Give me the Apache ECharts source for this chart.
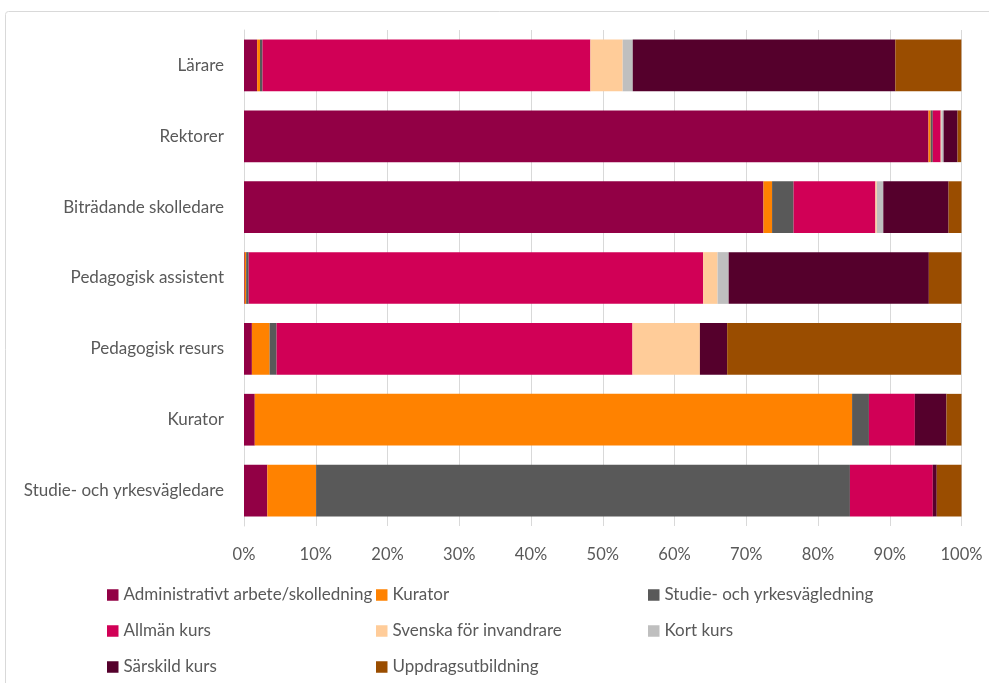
<!DOCTYPE html>
<html><head><meta charset="utf-8">
<script src="https://cdn.jsdelivr.net/npm/echarts@6/dist/echarts.min.js"></script>
<style>html,body{margin:0;padding:0;background:#fff}#c{width:989px;height:683px}</style>
</head><body><div id="c"></div>
<script>
const categories = ['Lärare','Rektorer','Biträdande skolledare','Pedagogisk assistent','Pedagogisk resurs','Kurator','Studie- och yrkesvägledare'];
const seriesNames = ['Administrativt arbete/skolledning','Kurator','Studie- och yrkesvägledning','Allmän kurs','Svenska för invandrare','Kort kurs','Särskild kurs','Uppdragsutbildning'];
const admin     = [1.83, 95.4, 72.4, 0.1, 1.1, 1.5, 3.25];
const kurator   = [0.4, 0.3, 1.2, 0.2, 2.47, 83.25, 6.8];
const studie    = [0.35, 0.3, 3.0, 0.35, 0.97, 2.35, 74.4];
const allman    = [45.7, 1.1, 11.4, 63.35, 49.6, 6.4, 11.55];
const svenska   = [4.5, 0.1, 0.2, 2.0, 9.4, 0, 0];
const kort      = [1.4, 0.3, 0.9, 1.55, 0, 0, 0];
const sarskild  = [36.6, 1.95, 9.1, 27.9, 3.8, 4.4, 0.55];
const uppdrag   = [9.2, 0.5, 1.9, 4.55, 32.6, 2.1, 3.45];
const tickLabels = ['0%','10%','20%','30%','40%','50%','60%','70%','80%','90%','100%'];
const colors = ['#920045','#FF8200','#595959','#D10056','#FFCC99','#BFBFBF','#55002C','#9A4D00'];
const values = [admin,kurator,studie,allman,svenska,kort,sarskild,uppdrag];

const FONT = 'Lato';
const TXT = '#595959';
const chart = echarts.init(document.getElementById('c'));
const legendCols = [[0,3,6],[1,4,7],[2,5]];
const legendX = [107,376,648];
chart.setOption({
  animation:false,
  textStyle:{fontFamily:FONT},
  graphic:[{type:'rect',shape:{x:5.5,y:11.5,width:1000,height:700,r:3},style:{fill:'none',stroke:'#d9d9d9',lineWidth:1},silent:true}],
  grid:{left:244,right:27.5,top:30,bottom:157,containLabel:false},
  xAxis:{type:'value',min:0,max:100,interval:10,
    axisLine:{show:false},axisTick:{show:false},
    splitLine:{lineStyle:{color:'#d9d9d9',width:1}},
    axisLabel:{color:TXT,fontSize:16.5,fontFamily:FONT,margin:20,formatter:(v)=>tickLabels[Math.round(v/10)]}},
  yAxis:{type:'category',data:categories,inverse:true,
    axisLine:{show:true,lineStyle:{color:'#d9d9d9'}},axisTick:{show:false},
    axisLabel:{color:TXT,fontSize:17,fontFamily:FONT,margin:20}},
  legend: legendCols.map((col,i)=>({orient:'vertical',left:legendX[i],top:586,padding:0,itemWidth:11.5,itemHeight:11.5,itemGap:18,
    icon:'rect',data:col.map(k=>seriesNames[k]),textStyle:{color:TXT,fontSize:17,lineHeight:18,fontFamily:FONT},selectedMode:false})),
  series: seriesNames.map((n,i)=>({name:n,type:'bar',stack:'a',barCategoryGap:'27%',data:values[i],
    itemStyle:{color:colors[i]}}))
});
</script></body></html>
